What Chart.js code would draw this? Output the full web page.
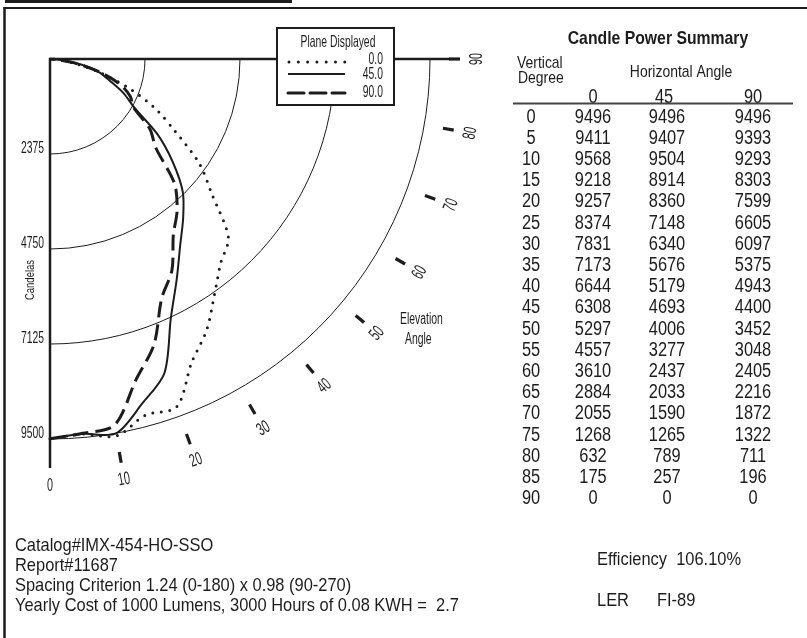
<!DOCTYPE html>
<html>
<head>
<meta charset="utf-8">
<script src="https://cdn.jsdelivr.net/npm/chart.js@4.4.1/dist/chart.umd.min.js"></script>
<style>
  html, body { margin: 0; padding: 0; background: #fff; }
  canvas { display: block; }
</style>
</head>
<body>
<canvas id="cp" width="807" height="638"></canvas>
<script>
// vertical angle from nadir, degrees
const vertAngles = [0, 5, 10, 15, 20, 25, 30, 35, 40, 45, 50, 55, 60, 65, 70, 75, 80, 85, 90];
// candelas per horizontal plane
const plane0  = [9496, 9411, 9568, 9218, 9257, 8374, 7831, 7173, 6644, 6308, 5297, 4557, 3610, 2884, 2055, 1268, 632, 175, 0];
const plane45 = [9496, 9407, 9504, 8914, 8360, 7148, 6340, 5676, 5179, 4693, 4006, 3277, 2437, 2033, 1590, 1265, 789, 257, 0];
const plane90 = [9496, 9393, 9293, 8303, 7599, 6605, 6097, 5375, 4943, 4400, 3452, 3048, 2405, 2216, 1872, 1322, 711, 196, 0];
const planeLabels = ["0.0", "45.0", "90.0"];
const horizAngles = ["0", "45", "90"];
const candelaTicks = [2375, 4750, 7125, 9500];
const elevTicks = [0, 10, 20, 30, 40, 50, 60, 70, 80, 90];
const infoLeft = [
  "Catalog#IMX-454-HO-SSO",
  "Report#11687",
  "Spacing Criterion 1.24 (0-180) x 0.98 (90-270)",
  "Yearly Cost of 1000 Lumens, 3000 Hours of 0.08 KWH =  2.7"
];
const efficiency = "Efficiency  106.10%";
const ler = ["LER", "FI-89"];

const INK = "#1c1c1c";
const FONT = '"Liberation Sans", Arial, sans-serif';

// полярные -> декартовы (0 вниз)
function toXY(vals) {
  return vals.map((c, i) => {
    const a = vertAngles[i] * Math.PI / 180;
    return { x: c * Math.sin(a), y: c * Math.cos(a) };
  });
}

// narrow text: sx squeezes horizontally
function txt(ctx, s, x, y, size, o = {}) {
  const { align = "left", sx = 0.85, bold = false, rot = 0 } = o;
  ctx.save();
  ctx.translate(x, y);
  if (rot) ctx.rotate(rot);
  ctx.scale(sx, 1);
  ctx.font = (bold ? "bold " : "") + size + "px " + FONT;
  ctx.textAlign = align;
  ctx.textBaseline = "middle";
  ctx.fillStyle = INK;
  ctx.fillText(s, 0, 0);
  ctx.restore();
}

function seg(ctx, x1, y1, x2, y2, w, dash) {
  ctx.save();
  ctx.strokeStyle = INK;
  ctx.lineWidth = w;
  if (dash) { ctx.setLineDash(dash); ctx.lineCap = "round"; }
  ctx.beginPath(); ctx.moveTo(x1, y1); ctx.lineTo(x2, y2); ctx.stroke();
  ctx.restore();
}

const styles = [
  { borderWidth: 3, borderDash: [0, 8.5], borderCapStyle: "round" },
  { borderWidth: 2, borderDash: [] },
  { borderWidth: 3, borderDash: [16, 7] }
];

const polarFrame = {
  id: "polarFrame",
  beforeDatasetsDraw(chart) {
    const { ctx, scales: { x, y } } = chart;
    const cx = x.getPixelForValue(0), cy = y.getPixelForValue(0);
    const R = x.getPixelForValue(9500) - cx;

    // page frame
    ctx.save();
    ctx.fillStyle = INK;
    ctx.fillRect(5, 0, 287, 3);
    ctx.restore();
    seg(ctx, 3.5, 8, 807, 8, 2);
    seg(ctx, 4.5, 7, 4.5, 638, 2.5);

    // candela rings
    ctx.save();
    ctx.strokeStyle = INK;
    ctx.lineWidth = 1;
    candelaTicks.forEach(v => {
      ctx.beginPath();
      ctx.arc(cx, cy, x.getPixelForValue(v) - cx, 0, Math.PI / 2);
      ctx.stroke();
    });
    ctx.restore();

    // axes
    seg(ctx, cx, cy - 1, cx, cy + R + 29, 2.5);
    seg(ctx, cx - 1, cy, cx + R + 20, cy, 2.5);

    // elevation ticks + labels
    elevTicks.forEach(d => {
      const a = d * Math.PI / 180, s = Math.sin(a), c = Math.cos(a);
      if (d > 0) seg(ctx, cx + (R + 19) * s, cy + (R + 19) * c, cx + (R + 30) * s, cy + (R + 30) * c, 3.2);
      txt(ctx, String(d), cx + (R + 47) * s, cy + (R + 47) * c, 18, { align: "center", sx: 0.6, rot: -a });
    });

    // candela labels
    candelaTicks.forEach(v => {
      txt(ctx, String(v), 44, y.getPixelForValue(v) - 5, 16, { align: "right", sx: 0.646 });
    });
    txt(ctx, "Candelas", 30, 280, 13, { align: "center", sx: 0.73, rot: -Math.PI / 2 });
    txt(ctx, "Elevation", 400, 320, 16, { sx: 0.65 });
    txt(ctx, "Angle", 405, 340, 16, { sx: 0.65 });
  },
  afterDraw(chart) {
    const { ctx } = chart;

    // legend box
    ctx.save();
    ctx.fillStyle = "#fff";
    ctx.fillRect(277, 28, 117, 77);
    ctx.strokeStyle = INK;
    ctx.lineWidth = 2;
    ctx.strokeRect(277, 28, 117, 77);
    ctx.restore();
    txt(ctx, "Plane Displayed", 338, 42, 16.5, { align: "center", sx: 0.627 });
    const ly = [62, 74, 93], ty = [59, 74, 92];
    planeLabels.forEach((l, i) => {
      seg(ctx, i === 0 ? 289 : 288, ly[i], 345, ly[i], styles[i].borderWidth, styles[i].borderDash.length ? (i === 0 ? [0, 9.3] : [16, 6]) : null);
      txt(ctx, l, 383, ty[i], 16.5, { align: "right", sx: 0.627 });
    });

    // table
    txt(ctx, "Candle Power Summary", 658, 39, 19, { align: "center", sx: 0.83, bold: true });
    txt(ctx, "Vertical", 517, 63, 17, { sx: 0.82 });
    txt(ctx, "Degree", 518, 78, 17, { sx: 0.82 });
    txt(ctx, "Horizontal Angle", 681, 72, 17, { align: "center", sx: 0.82 });
    const colX = [593, 667, 753];
    horizAngles.forEach((h, i) => txt(ctx, h, i === 1 ? 664 : colX[i], 97, 20, { align: "center", sx: 0.82 }));
    ctx.save();
    ctx.strokeStyle = "#444"; ctx.lineWidth = 2;
    ctx.beginPath(); ctx.moveTo(513, 103.5); ctx.lineTo(793, 103.5); ctx.stroke();
    ctx.restore();
    const planes = [plane0, plane45, plane90];
    vertAngles.forEach((d, r) => {
      const yy = 117 + r * 21.2;
      txt(ctx, String(d), 531, yy, 20, { align: "center", sx: 0.82 });
      planes.forEach((p, i) => txt(ctx, String(p[r]), colX[i], yy, 20, { align: "center", sx: 0.82 }));
    });

    // notes
    infoLeft.forEach((s, i) => txt(ctx, s, 15, 546 + i * 20, 19, { sx: 0.865 }));
    txt(ctx, efficiency, 597, 560, 19, { sx: 0.865 });
    txt(ctx, ler[0], 597, 601, 19, { sx: 0.865 });
    txt(ctx, ler[1], 657, 601, 19, { sx: 0.865 });
  }
};

const planes = [plane0, plane45, plane90];
new Chart(document.getElementById("cp"), {
  type: "scatter",
  data: {
    datasets: planes.map((p, i) => Object.assign({
      label: planeLabels[i],
      data: toXY(p),
      showLine: true,
      borderColor: INK,
      pointRadius: 0,
      tension: 0.3,
      clip: false
    }, styles[i]))
  },
  options: {
    responsive: false,
    animation: false,
    devicePixelRatio: 1,
    events: [],
    layout: { padding: { left: 50, top: 59, right: 357, bottom: 179 } },
    scales: {
      x: { type: "linear", min: 0, max: 10000, display: false },
      y: { type: "linear", min: 0, max: 10000, reverse: true, display: false }
    },
    plugins: { legend: { display: false }, tooltip: { enabled: false } }
  },
  plugins: [polarFrame]
});
</script>
</body>
</html>
